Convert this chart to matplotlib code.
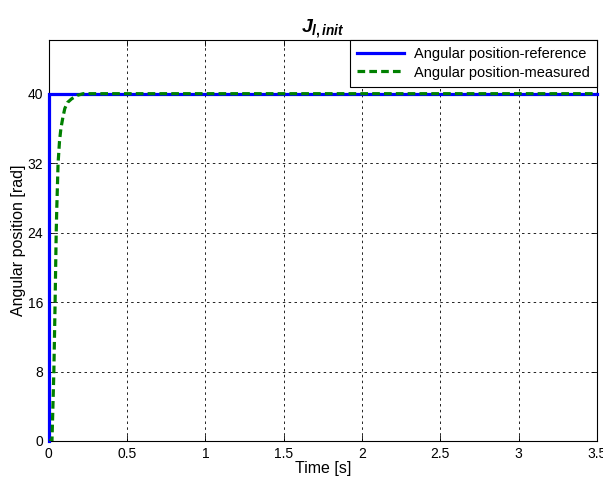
import matplotlib
matplotlib.use("Agg")
import matplotlib.pyplot as plt

plt.rcParams['font.family'] = ['Liberation Sans', 'DejaVu Sans']
plt.rcParams['mathtext.fontset'] = 'custom'
plt.rcParams['mathtext.it'] = 'Liberation Sans:italic:bold'
plt.rcParams['mathtext.rm'] = 'Liberation Sans:bold'

# Data
t_ref = [0.0, 0.0, 3.5]
pos_ref = [0.0, 40.0, 40.0]

t_meas = [0.0, 0.02, 0.032, 0.040, 0.047, 0.051, 0.059, 0.068, 0.077, 0.090,
          0.102, 0.120, 0.145, 0.180, 0.22, 3.5]
pos_meas = [0.0, 0.0, 8.0, 16.0, 24.0, 27.0, 32.0, 34.5, 36.0, 37.3,
            38.3, 39.0, 39.4, 39.8, 40.0, 40.0]

xticks = [0, 0.5, 1, 1.5, 2, 2.5, 3, 3.5]
xtick_labels = ['0', '0.5', '1', '1.5', '2', '2.5', '3', '3.5']
yticks = [0, 8, 16, 24, 32, 40]

fig = plt.figure(figsize=(6.03, 4.86), dpi=100)
ax = fig.add_axes([0.081, 0.0926, 0.909, 0.8254])

ax.plot(t_ref, pos_ref, color='#0000ff', lw=2.3, label='Angular position-reference',
        zorder=3, clip_on=False, solid_joinstyle='miter')
ax.plot(t_meas, pos_meas, color='#008000', lw=2.3, ls=(0, (2.4, 1.3)),
        label='Angular position-measured', zorder=4)

ax.set_xlim(0, 3.5)
ax.set_ylim(0, 46.2)
ax.set_xticks(xticks)
ax.set_xticklabels(xtick_labels)
ax.set_yticks(yticks)
ax.tick_params(direction='in', labelsize=10, length=4, width=0.6, top=True, right=True, pad=4)
ax.grid(True, color='black', ls=(0, (3, 4)), lw=0.6)
for s in ax.spines.values():
    s.set_linewidth(0.8)

ax.set_xlabel('Time [s]', fontsize=11.5, labelpad=0)
ax.set_ylabel('Angular position [rad]', fontsize=11.5, labelpad=1)
ax.set_title(r'$J_{l,init}$', fontsize=14, pad=5)

leg = ax.legend(loc='upper right', fontsize=10.5, frameon=True, fancybox=False,
                edgecolor='black', borderaxespad=0.0, handlelength=3.2,
                handletextpad=0.7, borderpad=0.5, labelspacing=0.3, framealpha=1)
leg.get_frame().set_linewidth(0.8)

fig.savefig('out.png', dpi=100, facecolor='white')
